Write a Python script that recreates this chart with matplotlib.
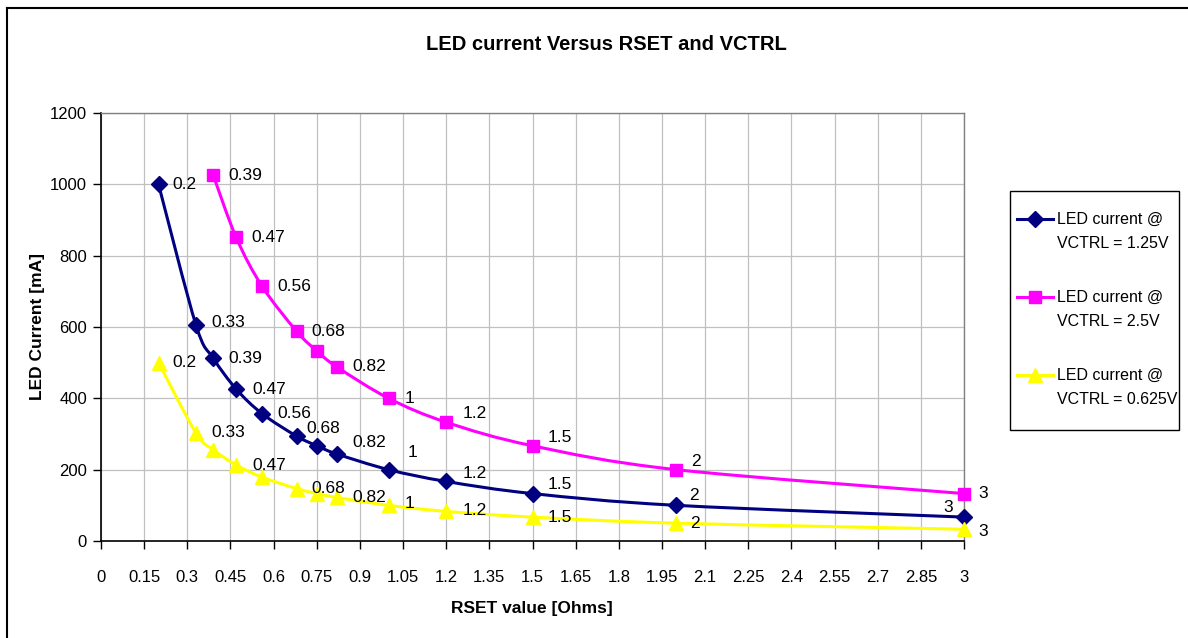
import numpy as np
import matplotlib
matplotlib.use("Agg")
import matplotlib.pyplot as plt
from matplotlib.path import Path
from matplotlib.patches import PathPatch, Rectangle
from matplotlib.lines import Line2D

plt.rcParams['font.family'] = ['Liberation Sans', 'DejaVu Sans']

# RSET values [Ohms]
rset_125 = [0.2, 0.33, 0.39, 0.47, 0.56, 0.68, 0.75, 0.82, 1.0, 1.2, 1.5, 2.0, 3.0]
rset_25 = [0.39, 0.47, 0.56, 0.68, 0.75, 0.82, 1.0, 1.2, 1.5, 2.0, 3.0]
rset_0625 = [0.2, 0.33, 0.39, 0.47, 0.56, 0.68, 0.75, 0.82, 1.0, 1.2, 1.5, 2.0, 3.0]

# LED current [mA]
i_125 = [1000, 606, 513, 426, 357, 294, 267, 244, 200, 167, 133, 100, 67]
i_25 = [1026, 851, 714, 588, 533, 488, 400, 333, 267, 200, 133]
i_0625 = [500, 303, 256, 213, 179, 147, 133, 122, 100, 83, 67, 50, 33]

names = ["LED current @\nVCTRL = 1.25V", "LED current @\nVCTRL = 2.5V", "LED current @\nVCTRL = 0.625V"]

# data label offsets in pixels (None = label hidden)
off_125 = [(14, 0), (15, 2), (15, 0), (16, 0), (15, 0), (10, 8), None, (15, 11),
           (19, 17), (16, 8), (15, 9), (13, 10), (-11, 10)]
off_25 = [(15, 0), (15, 0), (15, 0), (15, 0), None, (15, 0), (16, 0), (16, 9),
          (15, 8), (15, 8), (14, 0)]
off_0625 = [(14, 0), (15, 0), None, (16, 0), None, (15, 0), None, (15, 0),
            (16, 2), (16, 1), (15, 0), (14, 0), (14, -2)]

W, H = 1188, 638


def fx(px):
    return px / W


def fy(py):
    return 1 - py / H


def smooth_path(x, y):
    # Excel-like smoothed line: cubic bezier segments through the points
    pts = np.column_stack([x, y]).astype(float)
    n = len(pts)
    verts = [pts[0]]
    codes = [Path.MOVETO]
    for i in range(n - 1):
        p0 = pts[i - 1] if i > 0 else pts[i]
        p1 = pts[i]
        p2 = pts[i + 1]
        p3 = pts[i + 2] if i + 2 < n else pts[i + 1]
        verts += [p1 + (p2 - p0) / 6, p2 - (p3 - p1) / 6, p2]
        codes += [Path.CURVE4] * 3
    return Path(verts, codes)


fig = plt.figure(figsize=(W / 100, H / 100), dpi=100)
ax = fig.add_axes([fx(101), fy(541), fx(964) - fx(101), fy(113) - fy(541)])

series = [
    (rset_125, i_125, off_125, '#000080', 'D', 8),
    (rset_25, i_25, off_25, '#FF00FF', 's', 9),
    (rset_0625, i_0625, off_0625, '#FFFF00', '^', 10.5),
]

for x, y, offs, col, mk, ms in series:
    ax.add_patch(PathPatch(smooth_path(x, y), facecolor='none', edgecolor=col,
                           lw=2.2, clip_on=False, zorder=3))
    ax.plot(x, y, linestyle='none', marker=mk, ms=ms, color=col, clip_on=False, zorder=4)
    for xv, yv, o in zip(x, y, offs):
        if o is None:
            continue
        ax.annotate(f"{xv:g}", (xv, yv), xytext=o, textcoords='offset pixels',
                    ha='left' if o[0] > 0 else 'right', va='center', fontsize=12.5,
                    zorder=5, annotation_clip=False)

ax.set_xlim(0, 3)
ax.set_ylim(0, 1200)
xt = np.round(np.arange(0, 3.001, 0.15), 2)
ax.set_xticks(xt)
ax.set_xticklabels([f"{v:g}" for v in xt])
ax.set_yticks(np.arange(0, 1201, 200))
ax.tick_params(axis='both', direction='out', length=6, width=1, labelsize=12, color='black')
ax.tick_params(axis='x', pad=15)
ax.tick_params(axis='y', pad=4)
ax.grid(True, color='#c0c0c0', lw=0.9)
ax.set_axisbelow(True)
for s in ['top', 'right']:
    ax.spines[s].set_color('#808080')
    ax.spines[s].set_linewidth(1)
for s in ['left', 'bottom']:
    ax.spines[s].set_color('black')
    ax.spines[s].set_linewidth(1.2)

fig.text(fx(606), fy(45), "LED current Versus RSET and VCTRL", ha='center', va='center',
         fontsize=14.5, fontweight='bold')
fig.text(fx(532), fy(608), "RSET value [Ohms]", ha='center', va='center',
         fontsize=12.5, fontweight='bold')
fig.text(fx(38), fy(327), "LED Current [mA]", ha='center', va='center',
         fontsize=12.5, fontweight='bold', rotation=90)

# outer chart frame (top and left edges visible)
fig.add_artist(Line2D([fx(7), fx(7)], [0, fy(8)], color='black', lw=1.5, transform=fig.transFigure))
fig.add_artist(Line2D([fx(7), 1], [fy(8), fy(8)], color='black', lw=1.5, transform=fig.transFigure))

# legend box
fig.add_artist(Rectangle((fx(1010), fy(430)), fx(1179) - fx(1010), fy(191) - fy(430),
                         transform=fig.transFigure, facecolor='white', edgecolor='black', lw=1))
entry_y = [219, 297, 375]
for (x, y, offs, col, mk, ms), name, ey in zip(series, names, entry_y):
    fig.add_artist(Line2D([fx(1017), fx(1053)], [fy(ey), fy(ey)], color=col, lw=2.2,
                          transform=fig.transFigure))
    fig.add_artist(Line2D([fx(1035)], [fy(ey)], color=col, marker=mk, ms=ms,
                          linestyle='none', transform=fig.transFigure))
    l1, l2 = name.split("\n")
    fig.text(fx(1057), fy(ey), l1, ha='left', va='center', fontsize=11.5)
    fig.text(fx(1057), fy(ey + 25), l2, ha='left', va='center', fontsize=11.5)

fig.savefig("out.png", dpi=100)
